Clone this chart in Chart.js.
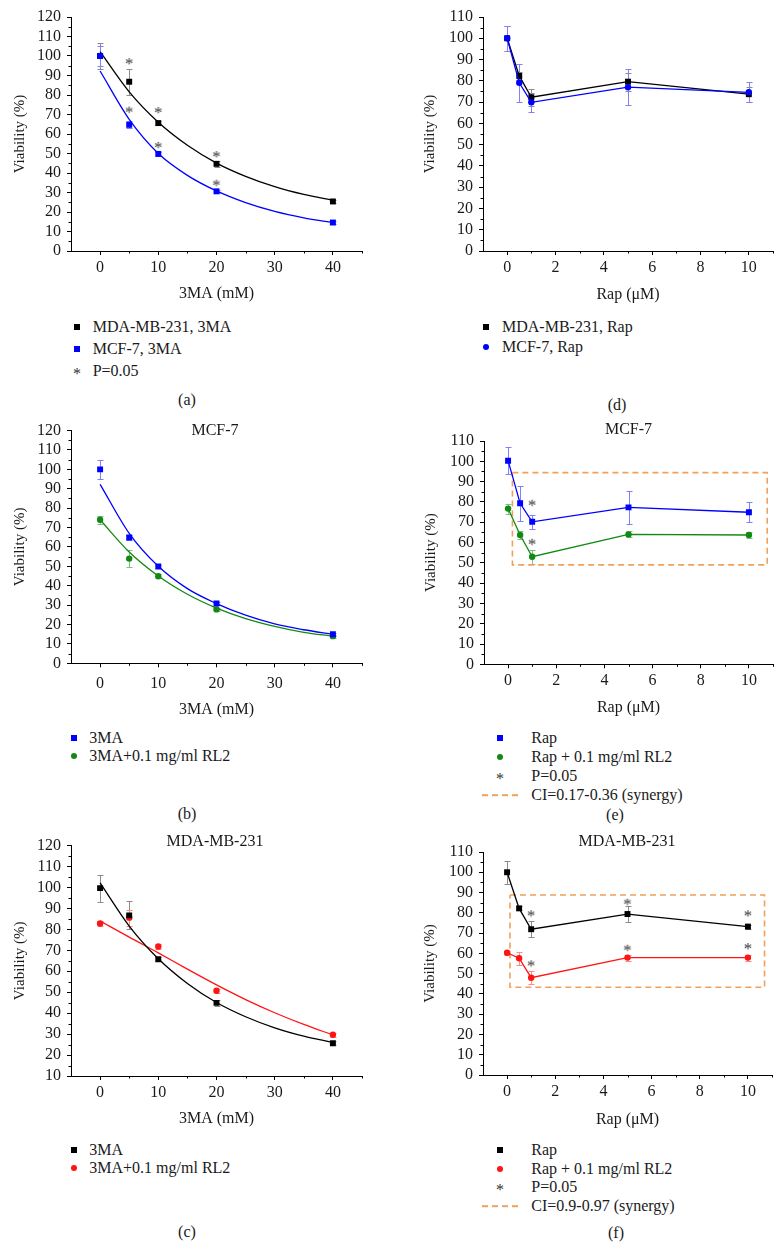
<!DOCTYPE html>
<html>
<head>
<meta charset="utf-8">
<script src="https://cdn.jsdelivr.net/npm/chart.js@4.4.1/dist/chart.umd.min.js"></script>
<style>
  body { margin: 0; background: #fff; width: 784px; height: 1250px; position: relative; overflow: hidden;
         font-family: "Liberation Serif", "Times New Roman", serif; color: #1a1a1a; }
  canvas { position: absolute; }
  .t { position: absolute; white-space: nowrap; font-size: 16px; line-height: 18px; transform: translateY(-50%); }
  .c { position: absolute; white-space: nowrap; font-size: 16px; line-height: 18px; transform: translate(-50%, -50%); }
  .mk { position: absolute; transform: translate(-50%, -50%); }
</style>
</head>
<body>
<canvas id="chartA"></canvas>
<canvas id="chartD"></canvas>
<canvas id="chartB"></canvas>
<canvas id="chartE"></canvas>
<canvas id="chartC"></canvas>
<canvas id="chartF"></canvas>
<script>
// ---- data ----
const dose3MA = [0, 5, 10, 20, 40];
const doseRap = [0, 0.5, 1, 5, 10];
const fitX = [0, 5, 10, 15, 20, 25, 30, 35, 40];

// (a) 3MA on both lines
const mdaA = [100, 86.8, 65.6, 44.7, 25.4];
const mdaAErr = [6.5, 6.7, 1, 1.5, 1];
const mcfA = [100, 64.7, 49.8, 30.6, 14.6];
const mcfAErr = [5, 1.8, 1, 0.8, 0.8];
const mdaAFit = [102.2, 81.6, 66, 54.2, 45.1, 38.3, 33, 29, 26];
const mcfAFit = [92.3, 67.5, 50, 38.8, 30.8, 24.8, 20.3, 17, 14.6];
const starsA = [[5, 97.4], [5, 72.5], [10, 72.3], [10, 54.4], [20, 49.7], [20, 35]];

// (d) Rap on both lines
const mdaD = [100, 82.3, 72.3, 79.6, 73.7];
const mdaDErr = [6, 2, 4, 4.3, 3.5];
const mcfD = [100, 79.1, 69.9, 77, 74.6];
const mcfDErr = [6, 9, 4.5, 8.4, 4.7];

// (b) MCF-7, 3MA +/- RL2
const mcfB = [100, 64.9, 49.9, 30.8, 15];
const mcfBErr = [5, 1.5, 1, 0.8, 0.8];
const rl2B = [74, 54, 44.9, 27.8, 14];
const rl2BErr = [2, 4.5, 1, 0.8, 0.8];
const mcfBFit = [92.3, 67, 50, 38.5, 30.8, 24.8, 20.3, 17.3, 15];
const rl2BFit = [74, 57.4, 45, 35.6, 28.5, 23.1, 19.1, 16, 14];

// (e) MCF-7, Rap +/- RL2
const rapE = [100.3, 79.3, 70.2, 77.3, 74.9];
const rapEErr = [6.5, 8.7, 3.5, 8.3, 4.9];
const rl2E = [76.7, 63.7, 53, 64, 63.7];
const rl2EErr = [2.5, 2, 3.5, 1.5, 1.5];
const starsE = [[1, 79.6], [1, 60.4]];
const boxEX = [0.18, 10.76];
const boxEY = [49, 94.4];

// (c) MDA-MB-231, 3MA +/- RL2
const mdaC = [99.7, 86.7, 65.7, 44.9, 25.6];
const mdaCErr = [6.5, 6.7, 1, 1.5, 1];
const rl2C = [82.8, 85.6, 71.8, 50.7, 29.7];
const rl2CErr = [1, 3.8, 1, 1, 1];
const mdaCFit = [102.2, 81.6, 66, 54.2, 45.1, 38.3, 33, 29, 26];
const rl2CFit = [84, 76.3, 68.8, 61, 53.5, 46.5, 40.2, 34.6, 29.6];

// (f) MDA-MB-231, Rap +/- RL2
const rapF = [100, 82.2, 71.9, 79.4, 73.2];
const rapFErr = [5.7, 1, 3.9, 4, 1];
const rl2F = [60.3, 57.6, 48, 57.9, 57.9];
const rl2FErr = [1, 3.3, 3.2, 1.5, 1.5];
const starsF = [[1, 79.8], [5, 85.5], [10, 79.8], [1, 55.1], [5, 62.8], [10, 63.6]];
const boxFX = [0.12, 10.69];
const boxFY = [43.3, 88.8];

// ticks
const yTicks120 = [0, 10, 20, 30, 40, 50, 60, 70, 80, 90, 100, 110, 120];
const yMinor120 = [5, 15, 25, 35, 45, 55, 65, 75, 85, 95, 105, 115];
const yTicks110 = [0, 10, 20, 30, 40, 50, 60, 70, 80, 90, 100, 110];
const yMinor110 = [5, 15, 25, 35, 45, 55, 65, 75, 85, 95, 105];
const yTicksC = [10, 20, 30, 40, 50, 60, 70, 80, 90, 100, 110, 120];
const yMinorC = [15, 25, 35, 45, 55, 65, 75, 85, 95, 105, 115];
const xTicks3MA = [0, 10, 20, 30, 40];
const xMinor3MA = [5, 15, 25, 35, 45];
const xTicksRap = [0, 2, 4, 6, 8, 10];
const xMinorRap = [1, 3, 5, 7, 9, 11];

const BLACK = '#000000', BLUE = '#0000ff', GREEN = '#128a12', RED = '#ff1414', ORANGE = '#f0a05a';
const FONT = "'Liberation Serif', serif";

Chart.defaults.font.family = FONT;
Chart.defaults.color = '#1a1a1a';

// ---- helpers ----
function pts(xs, ys) {
  return xs.map((x, i) => ({ x: x, y: ys[i] }));
}

function starImage() {
  const c = document.createElement('canvas');
  c.width = 12; c.height = 12;
  const g = c.getContext('2d');
  g.fillStyle = '#333';
  g.font = '17px ' + FONT;
  g.textAlign = 'center';
  const m = g.measureText('*');
  g.fillText('*', 6, 6 + (m.actualBoundingBoxAscent - m.actualBoundingBoxDescent) / 2);
  return c;
}
const STAR = starImage();

function markers(xs, ys, err, color, errColor, style, line, order) {
  return {
    data: pts(xs, ys), err: err, errColor: errColor,
    showLine: !!line, borderColor: color, borderWidth: 1.3, tension: 0,
    pointStyle: style, pointRadius: style === 'rect' ? 4.2 : 3.2,
    pointBackgroundColor: color, pointBorderWidth: 0, order: order === undefined ? 1 : order
  };
}

function curve(ys, color) {
  return {
    data: pts(fitX, ys), borderColor: color, borderWidth: 1.3,
    pointRadius: 0, cubicInterpolationMode: 'monotone', order: 2
  };
}

function stars(list) {
  return {
    data: list.map(s => ({ x: s[0], y: s[1] })), showLine: false,
    pointStyle: STAR, pointRadius: 6, order: 0
  };
}

function box(bx, by) {
  return {
    data: pts([bx[0], bx[1], bx[1], bx[0], bx[0]], [by[1], by[1], by[0], by[0], by[1]]),
    borderColor: ORANGE, borderWidth: 1.6, borderDash: [6, 4],
    pointRadius: 0, tension: 0, order: 3
  };
}

const errorBars = {
  id: 'errorBars',
  beforeDatasetsDraw(chart) {
    const ctx = chart.ctx, ys = chart.scales.y;
    chart.data.datasets.forEach((ds, i) => {
      if (!ds.err) return;
      const meta = chart.getDatasetMeta(i);
      ctx.save();
      ctx.strokeStyle = ds.errColor;
      ctx.lineWidth = 1;
      ctx.beginPath();
      meta.data.forEach((el, j) => {
        const e = ds.err[j];
        if (!e) return;
        const v = ds.data[j].y;
        const x = Math.round(el.x) + 0.5;
        const top = Math.round(ys.getPixelForValue(v + e)) + 0.5;
        const bot = Math.round(ys.getPixelForValue(v - e)) + 0.5;
        ctx.moveTo(x, top); ctx.lineTo(x, bot);
        ctx.moveTo(x - 3, top); ctx.lineTo(x + 3, top);
        ctx.moveTo(x - 3, bot); ctx.lineTo(x + 3, bot);
      });
      ctx.stroke();
      ctx.restore();
    });
  }
};

const minorTicks = {
  id: 'minorTicks',
  afterDraw(chart, args, opts) {
    const ctx = chart.ctx, a = chart.chartArea;
    ctx.save();
    ctx.strokeStyle = '#000';
    ctx.lineWidth = 1;
    ctx.beginPath();
    (opts.y || []).forEach(v => {
      const p = Math.round(chart.scales.y.getPixelForValue(v)) + 0.5;
      ctx.moveTo(a.left, p); ctx.lineTo(a.left - 2.5, p);
    });
    (opts.x || []).forEach(v => {
      const p = Math.round(chart.scales.x.getPixelForValue(v)) + 0.5;
      ctx.moveTo(p, a.bottom); ctx.lineTo(p, a.bottom + 2.5);
    });
    ctx.stroke();
    ctx.restore();
  }
};

// g: canvas x/y/w/h, area left/right/top/bottom (canvas-relative), yTitleX
function makeChart(id, g, sc, datasets) {
  const cv = document.getElementById(id);
  cv.width = g.w; cv.height = g.h;
  cv.style.left = g.x + 'px'; cv.style.top = g.y + 'px';
  const tickFont = { size: 16, family: FONT };
  return new Chart(cv, {
    type: 'line',
    data: { datasets: datasets },
    options: {
      responsive: false, animation: false, events: [],
      layout: { padding: { left: 0, top: g.top, right: g.w - g.right, bottom: 0 } },
      plugins: {
        legend: { display: false }, tooltip: { enabled: false },
        minorTicks: { x: sc.xMinor, y: sc.yMinor }
      },
      scales: {
        x: {
          type: 'linear', min: sc.xMin, max: sc.xMax,
          afterBuildTicks: s => { s.ticks = sc.xTicks.map(v => ({ value: v })); },
          afterFit: s => { s.height = g.h - g.bottom; },
          grid: { drawOnChartArea: false, tickLength: 4, tickColor: '#000' },
          border: { color: '#000', width: 1 },
          ticks: { font: tickFont, padding: g.xPad || 3, maxRotation: 0, autoSkip: false, color: '#1a1a1a' },
          title: { display: true, text: sc.xTitle, font: { size: 16, family: FONT }, color: '#1a1a1a', padding: { top: 0, bottom: 2 } }
        },
        y: {
          type: 'linear', min: sc.yMin, max: sc.yMax,
          afterBuildTicks: s => { s.ticks = sc.yTicks.map(v => ({ value: v })); },
          afterFit: s => { s.width = g.left; },
          grid: { drawOnChartArea: false, tickLength: 4, tickColor: '#000' },
          border: { color: '#000', width: 1 },
          ticks: { font: tickFont, padding: 6, autoSkip: false, color: '#1a1a1a' },
          title: { display: true, text: 'Viability (%)', font: { size: 15, family: FONT }, color: '#1a1a1a', padding: { top: g.yTitleX - 9, bottom: 0 } }
        }
      }
    },
    plugins: [errorBars, minorTicks]
  });
}

const sc3MA = { xMin: -5, xMax: 45, xTicks: xTicks3MA, xMinor: xMinor3MA, xTitle: '3MA (mM)', yMin: 0, yMax: 120, yTicks: yTicks120, yMinor: yMinor120 };
const scRap = { xMin: -1, xMax: 11, xTicks: xTicksRap, xMinor: xMinorRap, xTitle: 'Rap (\u03bcM)', yMin: 0, yMax: 110, yTicks: yTicks110, yMinor: yMinor110 };
const sc3MAc = Object.assign({}, sc3MA, { yMin: 10, yTicks: yTicksC, yMinor: yMinorC });

// (a)
makeChart('chartA', { x: 0, y: 0, w: 392, h: 305, left: 71, right: 362, top: 17, bottom: 251, yTitleX: 20 }, sc3MA, [
  curve(mdaAFit, BLACK),
  curve(mcfAFit, BLUE),
  markers(dose3MA, mdaA, mdaAErr, BLACK, '#8c8c8c', 'rect', false, 1.5),
  markers(dose3MA, mcfA, mcfAErr, BLUE, '#8080ff', 'rect', false, 1),
  stars(starsA)
]);

// (d)
makeChart('chartD', { x: 392, y: 0, w: 392, h: 306, left: 91, right: 381, top: 17, bottom: 251, yTitleX: 38 }, scRap, [
  markers(doseRap, mdaD, mdaDErr, BLACK, '#8c8c8c', 'rect', true, 1.5),
  markers(doseRap, mcfD, mcfDErr, BLUE, '#8080ff', 'circle', true, 1)
]);

// (b)
makeChart('chartB', { x: 0, y: 415, w: 392, h: 306, left: 71, right: 362, top: 14.3, bottom: 248.3, yTitleX: 20, xPad: 7 }, sc3MA, [
  curve(mcfBFit, BLUE),
  curve(rl2BFit, GREEN),
  markers(dose3MA, mcfB, mcfBErr, BLUE, '#8080ff', 'rect'),
  markers(dose3MA, rl2B, rl2BErr, GREEN, '#80c080', 'circle')
]);

// (e)
makeChart('chartE', { x: 392, y: 415, w: 392, h: 304, left: 92, right: 381, top: 26, bottom: 249.3, yTitleX: 39 }, scRap, [
  box(boxEX, boxEY),
  markers(doseRap, rapE, rapEErr, BLUE, '#8080ff', 'rect', true),
  markers(doseRap, rl2E, rl2EErr, GREEN, '#80c080', 'circle', true),
  stars(starsE)
]);

// (c)
makeChart('chartC', { x: 0, y: 830, w: 392, h: 300, left: 71, right: 362, top: 11.7, bottom: 246, yTitleX: 20 }, sc3MAc, [
  curve(mdaCFit, BLACK),
  curve(rl2CFit, RED),
  markers(dose3MA, mdaC, mdaCErr, BLACK, '#8c8c8c', 'rect'),
  markers(dose3MA, rl2C, rl2CErr, RED, '#ff8a8a', 'circle')
]);

// (f)
makeChart('chartF', { x: 392, y: 830, w: 392, h: 301, left: 91, right: 380, top: 22, bottom: 245, yTitleX: 38 }, scRap, [
  box(boxFX, boxFY),
  markers(doseRap, rapF, rapFErr, BLACK, '#8c8c8c', 'rect', true),
  markers(doseRap, rl2F, rl2FErr, RED, '#ff8a8a', 'circle', true),
  stars(starsF)
]);

// ---- panel titles, legends, captions ----
function addText(cls, x, y, html) {
  const d = document.createElement('div');
  d.className = cls;
  d.style.left = x + 'px';
  d.style.top = y + 'px';
  d.innerHTML = html;
  document.body.appendChild(d);
  return d;
}

function addMarker(kind, color, x, y) {
  const d = document.createElement('div');
  d.className = 'mk';
  d.style.left = x + 'px';
  d.style.top = y + 'px';
  if (kind === 'sq') {
    d.style.width = '6px'; d.style.height = '6px'; d.style.background = color;
  } else if (kind === 'dot') {
    d.style.width = '6px'; d.style.height = '6px'; d.style.background = color; d.style.borderRadius = '50%';
  } else if (kind === 'star') {
    d.style.fontSize = '16px'; d.style.color = color; d.style.lineHeight = '16px';
    d.style.marginTop = '3px';
    d.textContent = '*';
  } else {
    d.style.width = '36px'; d.style.height = '1.6px';
    d.style.background = 'repeating-linear-gradient(to right, ' + color + ' 0 6px, transparent 6px 10px)';
  }
  document.body.appendChild(d);
}

function legend(items, rows, mx, tx) {
  items.forEach((it, i) => {
    addMarker(it[0], it[1], mx, rows[i]);
    addText('t', tx, rows[i], it[2]);
  });
}

legend([['sq', BLACK, 'MDA-MB-231, 3MA'], ['sq', BLUE, 'MCF-7, 3MA'], ['star', '#333', 'P=0.05']],
  [326.7, 349, 371], 77, 92.7);
legend([['sq', BLACK, 'MDA-MB-231, Rap'], ['dot', BLUE, 'MCF-7, Rap']],
  [326.7, 347.3], 486.3, 502);
legend([['sq', BLUE, '3MA'], ['dot', GREEN, '3MA+0.1 mg/ml RL2']],
  [738.3, 756], 74, 89.3);
legend([['sq', BLUE, 'Rap'], ['dot', GREEN, 'Rap + 0.1 mg/ml RL2'], ['star', '#333', 'P=0.05'], ['dash', ORANGE, 'CI=0.17-0.36 (synergy)']],
  [738.3, 757.3, 776, 795], 500, 531.3);
legend([['sq', BLACK, '3MA'], ['dot', RED, '3MA+0.1 mg/ml RL2']],
  [1150, 1167.7], 74, 89.3);
legend([['sq', BLACK, 'Rap'], ['dot', RED, 'Rap + 0.1 mg/ml RL2'], ['star', '#333', 'P=0.05'], ['dash', ORANGE, 'CI=0.9-0.97 (synergy)']],
  [1150, 1169, 1187, 1206], 500, 531.3);

addText('c', 215, 430, 'MCF-7');
addText('c', 628.5, 429, 'MCF-7');
addText('c', 215, 840.7, 'MDA-MB-231');
addText('c', 627, 840.7, 'MDA-MB-231');

addText('c', 187, 400, '(a)');
addText('c', 617, 405, '(d)');
addText('c', 187, 814, '(b)');
addText('c', 615, 815, '(e)');
addText('c', 187, 1232, '(c)');
addText('c', 616, 1233, '(f)');
</script>
</body>
</html>
